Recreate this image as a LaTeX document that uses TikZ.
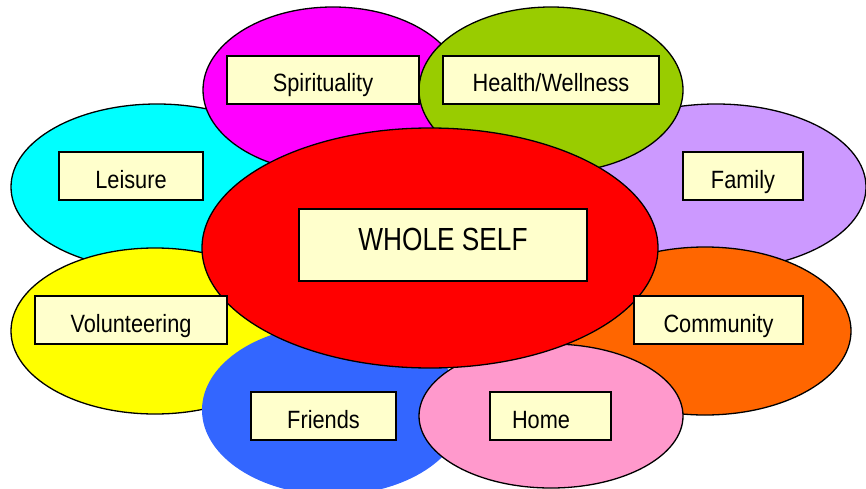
\documentclass[tikz,border=0pt]{standalone}
\usepackage{fontspec}
\setmainfont{Liberation Sans}[FakeStretch=0.82]
\newfontfamily\tagfont{Liberation Sans}[FakeStretch=0.87]
\usetikzlibrary{shapes.geometric}

\definecolor{petalcyan}{HTML}{00FFFF}
\definecolor{petalmagenta}{HTML}{FF00FF}
\definecolor{petalgreen}{HTML}{99CC00}
\definecolor{petallilac}{HTML}{CC99FF}
\definecolor{petalyellow}{HTML}{FFFF00}
\definecolor{petalorange}{HTML}{FF6600}
\definecolor{petalblue}{HTML}{3366FF}
\definecolor{petalpink}{HTML}{FF99CC}
\definecolor{petalred}{HTML}{FF0000}
\definecolor{tagfill}{HTML}{FFFFCC}

\begin{document}
\begin{tikzpicture}[
  x=1pt, y=-1pt,
  petal/.style={ellipse, draw=black, line width=1.3pt, inner sep=0pt},
  tag/.style={rectangle, draw=black, line width=2pt, fill=tagfill,
    inner xsep=0pt, inner ysep=0pt, minimum height=48pt,
    text height=36pt, text depth=12pt,
    font=\tagfont\fontsize{25}{30}\selectfont},
]

\clip (0,0) rectangle (866,489);
\useasboundingbox (0,0) rectangle (866,489);

\node [petal, fill=petalcyan, minimum width=292pt, minimum height=166pt] (leisure) at (157,187) {};
\node [petal, fill=petallilac, minimum width=300pt, minimum height=166pt] (family) at (716,187) {};
\node [petal, fill=petalmagenta, minimum width=260pt, minimum height=166pt] (spirit) at (333,90) {};
\node [petal, fill=petalgreen, minimum width=264pt, minimum height=166pt] (health) at (551,90) {};
\node [petal, fill=petalyellow, minimum width=288pt, minimum height=166pt] (volunteer) at (155,331) {};
\node [petal, fill=petalorange, minimum width=292pt, minimum height=168pt] (community) at (705,331) {};
\node [petal, draw=none, fill=petalblue, minimum width=262pt, minimum height=170pt] (friends) at (333,410) {};
\node [petal, fill=petalpink, minimum width=264pt, minimum height=144pt] (home) at (551,416) {};
\node [petal, fill=petalred, minimum width=456pt, minimum height=240pt] (self) at (430,248) {};

\node [tag, minimum width=192pt] (spirittag) at (323,80) {Spirituality};
\node [tag, minimum width=216pt] (healthtag) at (551,80) {Health/Wellness};
\node [tag, minimum width=144pt] (leisuretag) at (131,176) {Leisure};
\node [tag, minimum width=120pt] (familytag) at (743,176) {Family};
\node [tag, minimum width=288pt, minimum height=72pt, text height=41pt, text depth=31pt,
  font=\fontsize{32}{38}\selectfont] (selftag) at (443,245) {WHOLE SELF};
\node [tag, minimum width=192pt] (volunteertag) at (131,320) {Volunteering};
\node [tag, minimum width=169pt] (communitytag) at (718.5,320) {Community};
\node [tag, minimum width=145pt] (friendstag) at (323.5,416) {Friends};
\node [tag, minimum width=121pt, text width=77pt, align=left] (hometag) at (550.5,416) {Home};

\end{tikzpicture}
\end{document}
